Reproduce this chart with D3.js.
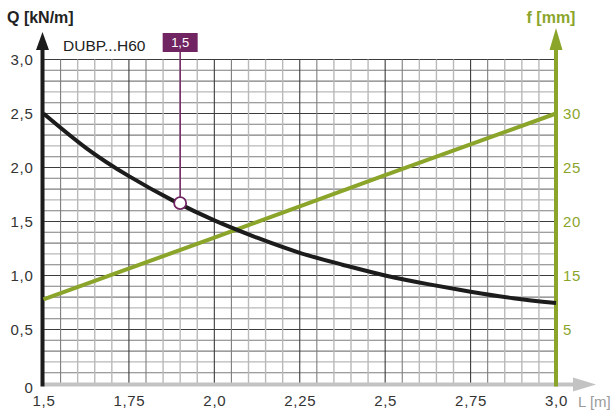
<!DOCTYPE html>
<html><head><meta charset="utf-8">
<script src="https://cdn.jsdelivr.net/npm/d3@7"></script>
<style>
html,body{margin:0;padding:0;background:#fff;}
svg{display:block;font-family:"Liberation Sans",Arial,Helvetica,sans-serif;}
</style></head>
<body><svg id="chart" width="613" height="414"></svg>
<script>
// ---- data ----
const spanL = [1.5, 1.625, 1.75, 1.875, 2.0, 2.125, 2.25, 2.375, 2.5, 2.625, 2.75, 2.875, 3.0];
const loadQ = [2.50, 2.18, 1.92, 1.70, 1.51, 1.35, 1.21, 1.10, 1.00, 0.92, 0.85, 0.79, 0.745];
const deflL = [1.5, 2.0, 2.5, 3.0];
const deflF = [12.8, 18.5, 24.3, 30.0];
const xTicks = [1.5, 1.75, 2.0, 2.25, 2.5, 2.75, 3.0];
const xTickLabels = ["1,5", "1,75", "2,0", "2,25", "2,5", "2,75", "3,0"];
const yTicks = [0, 0.5, 1.0, 1.5, 2.0, 2.5, 3.0];
const yTickLabels = ["0", "0,5", "1,0", "1,5", "2,0", "2,5", "3,0"];
const fTicks = [10, 15, 20, 25, 30];
const fTickLabels = ["5", "15", "20", "25", "30"];
const markerL = 1.9, markerQ = 1.67, markerLabel = "1,5";
const productName = "DUBP...H60";

// ---- styles ----
const BLACK = "#1c1c1c", GREEN = "#8ba52b", PURPLE = "#712462", GREYAX = "#c3c3c3";

const svg = d3.select("#chart");
const x = d3.scaleLinear().domain([1.5, 3.0]).range([43.5, 556]);
const y = d3.scaleLinear().domain([0, 3]).range([383.5, 59.5]);
const yf = d3.scaleLinear().domain([5, 35]).range([383.5, 59.5]);

// grid
const g = svg.append("g");
const vx = d3.range(0, 31).map(i => 1.5 + i * 0.05);
const hy = d3.range(0, 31).map(i => i * 0.1);
const vCol = i => i % 5 === 0 ? "#3c3c3c" : (i % 5 === 1 ? "#7e7e7e" : "#b9b9b9");
const hCol = i => i % 5 === 0 ? "#3c3c3c" : (i % 5 === 2 ? "#b9b9b9" : "#7e7e7e");
g.selectAll(".h").data(hy).join("line")
  .attr("x1", x(1.5)).attr("x2", x(3.0))
  .attr("y1", d => y(d)).attr("y2", d => y(d))
  .attr("stroke", (d, i) => hCol(i)).attr("stroke-width", (d, i) => i % 5 === 2 ? 1.4 : 1.1);
g.selectAll(".v").data(vx).join("line")
  .attr("y1", y(0)).attr("y2", y(3))
  .attr("x1", d => x(d)).attr("x2", d => x(d))
  .attr("stroke", (d, i) => vCol(i)).attr("stroke-width", (d, i) => i % 5 >= 2 ? 1.4 : 1.1);

// bottom axis (grey, arrow)
svg.append("line").attr("x1", x(1.5)).attr("x2", 574).attr("y1", y(0) + 1).attr("y2", y(0) + 1)
  .attr("stroke", GREYAX).attr("stroke-width", 4);
svg.append("path").attr("d", `M573,${y(0) + 1 - 7}L596,${y(0) + 1}L573,${y(0) + 1 + 7}Z`).attr("fill", GREYAX);

// right axis (green, arrow)
svg.append("line").attr("x1", x(3.0)).attr("x2", x(3.0)).attr("y1", y(0) + 3).attr("y2", 48)
  .attr("stroke", GREEN).attr("stroke-width", 4);
svg.append("path").attr("d", `M${x(3.0) - 6.5},50L${x(3.0)},28L${x(3.0) + 6.5},50Z`).attr("fill", GREEN);

// left axis (black, arrow)
svg.append("line").attr("x1", x(1.5) - 1).attr("x2", x(1.5) - 1).attr("y1", y(0) + 3).attr("y2", 48)
  .attr("stroke", BLACK).attr("stroke-width", 4);
svg.append("path").attr("d", `M${x(1.5) - 7.5},50L${x(1.5) - 1},32L${x(1.5) + 5.5},50Z`).attr("fill", BLACK);

// tick labels via d3 axes
const axL = svg.append("g").attr("transform", `translate(${x(1.5)},0)`)
  .call(d3.axisLeft(y).tickValues(yTicks).tickSize(0).tickPadding(10)
    .tickFormat((d, i) => yTickLabels[i]));
const axB = svg.append("g").attr("transform", `translate(0,${y(0)})`)
  .call(d3.axisBottom(x).tickValues(xTicks).tickSize(0).tickPadding(12)
    .tickFormat((d, i) => xTickLabels[i]));
const axR = svg.append("g").attr("transform", `translate(${x(3.0)},0)`)
  .call(d3.axisRight(yf).tickValues(fTicks).tickSize(0).tickPadding(7)
    .tickFormat((d, i) => fTickLabels[i]));
[axL, axB, axR].forEach(a => {
  a.select(".domain").remove();
  a.selectAll("text").attr("font-family", "'Liberation Sans',Arial,sans-serif")
    .attr("font-size", 15).attr("fill", "#333").attr("letter-spacing", "0.7px");
});
axR.selectAll("text").attr("fill", GREEN);
axL.selectAll("text").filter((d) => d === 0).attr("dy", "0.6em");

// axis titles
svg.append("text").attr("x", 7).attr("y", 23).attr("font-size", 16).attr("font-weight", "bold")
  .attr("fill", "#222").text("Q [kN/m]");
svg.append("text").attr("x", 551).attr("y", 23).attr("text-anchor", "middle").attr("font-size", 16)
  .attr("font-weight", "bold").attr("fill", GREEN).text("f [mm]");
svg.append("text").attr("x", 578).attr("y", 407).attr("font-size", 15).attr("fill", "#9a9a9a").text("L [m]");
svg.append("text").attr("x", 63).attr("y", 51).attr("font-size", 15.5).attr("fill", "#222").text(productName);

// series
const qData = spanL.map((l, i) => [l, loadQ[i]]);
const fData = deflL.map((l, i) => [l, deflF[i]]);
svg.append("path").datum(fData).attr("fill", "none").attr("stroke", GREEN).attr("stroke-width", 4)
  .attr("d", d3.line().x(d => x(d[0])).y(d => yf(d[1])));
svg.append("path").datum(qData).attr("fill", "none").attr("stroke", BLACK).attr("stroke-width", 4)
  .attr("d", d3.line().curve(d3.curveNatural).x(d => x(d[0])).y(d => y(d[1])));

// marker
const mx = x(markerL), my = y(markerQ);
svg.append("line").attr("x1", mx).attr("x2", mx).attr("y1", 50).attr("y2", my - 6)
  .attr("stroke", PURPLE).attr("stroke-width", 1.5);
svg.append("rect").attr("x", mx - 17.5).attr("y", 33).attr("width", 35).attr("height", 19).attr("fill", PURPLE);
svg.append("text").attr("x", mx).attr("y", 47).attr("text-anchor", "middle").attr("font-size", 13)
  .attr("fill", "#fff").text(markerLabel);
svg.append("circle").attr("cx", mx).attr("cy", my).attr("r", 6).attr("fill", "#fff")
  .attr("stroke", PURPLE).attr("stroke-width", 1.8);
</script></body></html>
